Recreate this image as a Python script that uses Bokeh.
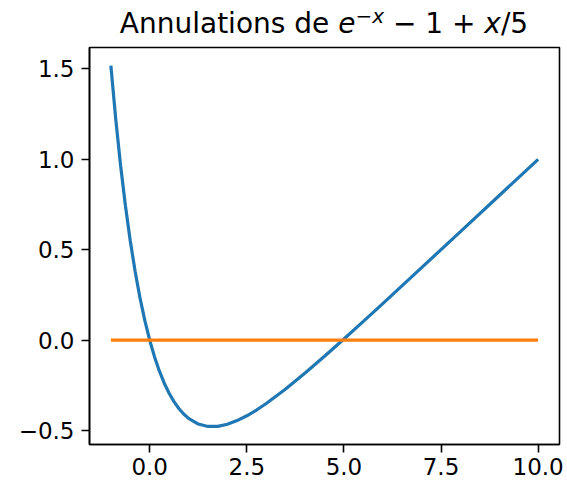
from bokeh.plotting import figure
from bokeh.models import Range1d, FixedTicker, Div
from bokeh.layouts import column
from bokeh.embed import file_html
from bokeh.resources import INLINE

# values (f(x) = e^-x - 1 + x/5)
curve_x = [-1.0, -0.875, -0.75, -0.625, -0.5, -0.375, -0.25, -0.125, 0.0, 0.125, 0.25, 0.375,
           0.5, 0.625, 0.75, 0.875, 1.0, 1.25, 1.5, 1.75, 2.0, 2.25, 2.5, 2.75, 3.0, 3.5,
           4.0, 4.5, 5.0, 5.5, 6.0, 7.0, 8.0, 9.0, 10.0]
curve_y = [1.5183, 1.2239, 0.9670, 0.7432, 0.5487, 0.3800, 0.2340, 0.1081, 0.0, -0.0925,
           -0.1712, -0.2377, -0.2935, -0.3397, -0.3776, -0.4081, -0.4321, -0.4635, -0.4769,
           -0.4762, -0.4647, -0.4446, -0.4179, -0.3861, -0.3502, -0.2698, -0.1817, -0.0889,
           0.0067, 0.1041, 0.2025, 0.4009, 0.6003, 0.8001, 1.0000]
zero_x = [-1.0, 10.0]
zero_y = [0.0, 0.0]

x_ticks = [0.0, 2.5, 5.0, 7.5, 10.0]
x_tick_labels = ["0.0", "2.5", "5.0", "7.5", "10.0"]
y_ticks = [-0.5, 0.0, 0.5, 1.0, 1.5]
y_tick_labels = ["\u22120.5", "0.0", "0.5", "1.0", "1.5"]

title_html = ("Annulations de <i>e</i><span style='font-size:20px;position:relative;top:-10px'>"
              "\u2212<i>x</i></span> \u2212 1 + <i>x</i>/5")

FONT = "DejaVu Sans"

xmin, xmax = min(curve_x + zero_x), max(curve_x + zero_x)
ymin, ymax = min(curve_y + zero_y), max(curve_y + zero_y)
xpad = 0.05 * (xmax - xmin)
ypad = 0.05 * (ymax - ymin)

ML, MR, FW, FH = 89, 5, 470, 397
title_div = Div(text=("<div style=\"margin-left:%dpx;width:%dpx;text-align:center;"
                      "font-family:'DejaVu Sans';font-size:28px;line-height:28px;"
                      "margin-top:10px;color:black;white-space:nowrap\">%s</div>")
                     % (ML, FW, title_html),
                width=ML + FW + MR, height=40, margin=0)

p = figure(frame_width=FW, frame_height=FH, output_backend="svg", toolbar_location=None,
           x_range=Range1d(xmin - xpad, xmax + xpad), y_range=Range1d(ymin - ypad, ymax + ypad),
           min_border_left=ML, min_border_right=MR, min_border_top=7, min_border_bottom=36,
           margin=0)
p.title.text = ""
p.grid.visible = False
p.outline_line_color = "black"
p.outline_line_width = 1.6
p.background_fill_color = "white"
p.border_fill_color = "white"

p.line(curve_x, curve_y, line_color="#1f77b4", line_width=3.2)
p.line(zero_x, zero_y, line_color="#ff7f0e", line_width=3.2)

p.xaxis.ticker = FixedTicker(ticks=x_ticks)
p.xaxis.major_label_overrides = dict(zip(x_ticks, x_tick_labels))
p.yaxis.ticker = FixedTicker(ticks=y_ticks)
p.yaxis.major_label_overrides = dict(zip(y_ticks, y_tick_labels))
for ax in (p.xaxis, p.yaxis):
    ax.major_tick_out = 8
    ax.major_tick_in = 0
    ax.minor_tick_line_color = None
    ax.major_tick_line_width = 1.6
    ax.axis_line_width = 1.6
    ax.major_label_text_font = FONT
    ax.major_label_text_font_size = "23px"
    ax.major_label_text_color = "black"
p.xaxis.major_label_standoff = 5
p.yaxis.major_label_standoff = 7

layout = column(title_div, p, spacing=0, margin=0)
open("out.html", "w").write(file_html(layout, INLINE))
